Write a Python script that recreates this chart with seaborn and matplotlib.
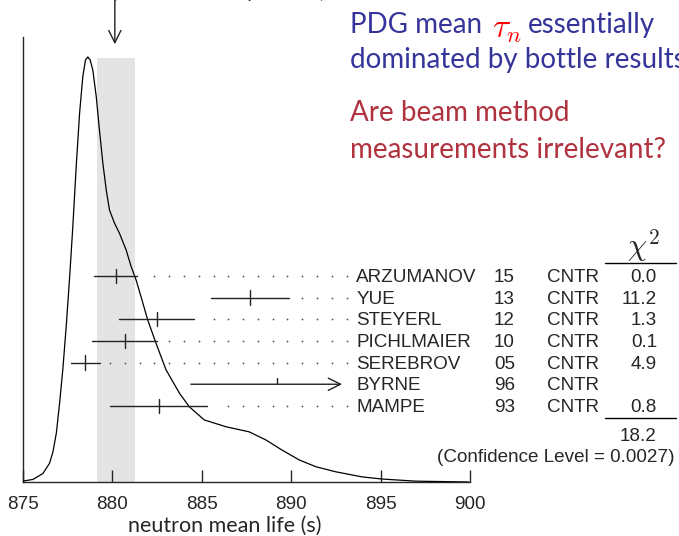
import matplotlib
matplotlib.use('Agg')
import matplotlib.pyplot as plt
import seaborn as sns
import numpy as np

# ideogram curve (peak normalised to 1)
curve_x = [874.98, 875.57, 876.13, 876.50, 876.69, 876.88, 877.06, 877.24, 877.43,
           877.62, 877.80, 877.99, 878.18, 878.36, 878.51, 878.64, 878.77, 878.92,
           879.11, 879.29, 879.48, 879.67, 879.85, 880.13, 880.41, 880.78, 881.06,
           881.34, 881.62, 881.99, 882.42, 883.01, 883.76, 884.31, 885.15, 886.36,
           887.66, 888.59, 889.50, 890.45, 891.38, 892.50, 893.97, 895.08, 896.96, 899.94]
curve_y = [0.002, 0.006, 0.020, 0.044, 0.071, 0.115, 0.185, 0.264, 0.365,
           0.480, 0.600, 0.742, 0.868, 0.954, 0.993, 1.000, 0.993, 0.969,
           0.907, 0.828, 0.750, 0.687, 0.640, 0.609, 0.585, 0.546, 0.507,
           0.475, 0.435, 0.381, 0.330, 0.264, 0.209, 0.177, 0.146, 0.130,
           0.118, 0.099, 0.075, 0.052, 0.036, 0.024, 0.012, 0.007, 0.002, 0.000]

names = ['ARZUMANOV', 'YUE', 'STEYERL', 'PICHLMAIER', 'SEREBROV', 'BYRNE', 'MAMPE']
years = ['15', '13', '12', '10', '05', '96', '93']
techs = ['CNTR'] * 7
tau = [880.2, 887.7, 882.5, 880.7, 878.5, 889.2, 882.6]
err = [1.2, 2.2, 2.1, 1.8, 0.8, 4.8, 2.7]
chi2 = ['0.0', '11.2', '1.3', '0.1', '4.9', '', '0.8']
used = [True, True, True, True, True, False, True]
chi2_total = '18.2'
conf_level = '0.0027'

pdg_mean = 880.2
band_lo, band_hi = 879.15, 881.25

sns.set_style('ticks')
plt.rcParams['mathtext.fontset'] = 'cm'
BLUE = '#34349a'
RED = '#b0323f'
beamer_font = 'Lato'
table_font = 'Liberation Sans'

fig = plt.figure(figsize=(6.79, 5.36), dpi=100)
ax = fig.add_axes([22.7 / 679, 54 / 536, 447.3 / 679, 445 / 536])
ax.set_xlim(875, 900)
ax.set_ylim(0, 1.047)

ax.fill_between([band_lo, band_hi], 0, 0.998, color='#e4e4e4', lw=0, zorder=0)
sns.lineplot(x=curve_x, y=curve_y, ax=ax, color='black', lw=0.9, zorder=3)

# measurements
row_top, row_step = 0.485, 0.051
dot_end, dot_step = 893.1, 0.826
for i, (n, t, e) in enumerate(zip(names, tau, err)):
    y = row_top - i * row_step
    lo, hi = t - e, t + e
    if used[i]:
        ax.plot([lo, hi], [y, y], color='#222222', lw=1.0, zorder=4)
        ax.plot([t, t], [y - 0.017, y + 0.017], color='#222222', lw=1.0, zorder=4)
        grid = dot_end - dot_step * np.arange(0, 30)
        dots = grid[grid > hi + 0.55]
        ax.plot(dots, [y] * len(dots), ls='none', marker='o', ms=1.3, mew=0,
                color='#555555', zorder=4)
    else:
        ax.annotate('', xy=(892.85, y), xytext=(lo, y),
                    arrowprops=dict(arrowstyle='->', color='#222222', lw=1.0,
                                    mutation_scale=22, shrinkA=0, shrinkB=0))
        ax.plot([t, t], [y, y + 0.014], color='#222222', lw=1.0, zorder=4)
    ty = y - 0.004
    ax.text(893.65, ty, n, fontsize=13.6, family=table_font, va='center', ha='left')
    ax.text(901.33, ty, years[i], fontsize=13.6, family=table_font, va='center', ha='left')
    ax.text(904.3, ty, techs[i], fontsize=13.6, family=table_font, va='center', ha='left')
    ax.text(910.45, ty, chi2[i], fontsize=13.6, family=table_font, va='center', ha='right')

ax.text(909.7, 0.556, r'$\chi^2$', fontsize=22, ha='center', va='center')
ax.plot([907.57, 911.5], [0.516, 0.516], color='black', lw=1.0, clip_on=False)
ax.plot([907.57, 911.5], [0.151, 0.151], color='black', lw=1.0, clip_on=False)
ax.text(910.45, 0.106, chi2_total, fontsize=13.6, family=table_font, va='center', ha='right')
ax.text(911.45, 0.058, '(Confidence Level = %s)' % conf_level, fontsize=13.6,
        family=table_font, va='center', ha='right')

# pointer to the PDG average
ax.annotate('', xy=(pdg_mean - 0.05, 1.03), xytext=(pdg_mean - 0.05, 1.14),
            arrowprops=dict(arrowstyle='->', color='#222222', lw=1.0,
                            mutation_scale=22, shrinkA=0, shrinkB=0),
            annotation_clip=False)
fig.text(112 / 679, 1.0 + 2 / 536, '(error inflated by S = 1.9)', fontsize=14,
         family=beamer_font, va='baseline', ha='left')

# axes styling
sns.despine(ax=ax)
ax.spines['left'].set_linewidth(1.0)
ax.spines['bottom'].set_linewidth(1.0)
ax.set_yticks([])
ax.set_xticks([875, 880, 885, 890, 895, 900])
ax.tick_params(axis='x', direction='in', length=9, width=1.0, pad=10, labelsize=13.6)
for lab in ax.get_xticklabels():
    lab.set_family(table_font)
ax.set_xlabel('neutron mean life (s)', fontsize=15.5, family=beamer_font)
ax.xaxis.set_label_coords(0.4518, -0.099)
ax.xaxis.label.set_va('center')

# slide text
fs = 20
t1 = fig.text(350 / 679, 0.953, 'PDG mean', color=BLUE, fontsize=fs,
              family=beamer_font, va='center', ha='left')
t2 = ax.annotate(r'$\tau_n$', xy=(1, 0), xycoords=t1, color='red', fontsize=24,
                 va='bottom', ha='left', xytext=(7, -5), textcoords='offset points')
ax.annotate('essentially', xy=(1, 0), xycoords=(t2, t1), color=BLUE, fontsize=fs,
            family=beamer_font, va='bottom', ha='left', xytext=(4, 0),
            textcoords='offset points')
fig.text(350 / 679, 0.888, 'dominated by bottle results', color=BLUE, fontsize=fs,
         family=beamer_font, va='center', ha='left')
fig.text(350 / 679, 0.789, 'Are beam method', color=RED, fontsize=fs,
         family=beamer_font, va='center', ha='left')
fig.text(350 / 679, 0.720, 'measurements irrelevant?', color=RED, fontsize=fs,
         family=beamer_font, va='center', ha='left')

fig.savefig('out.png', dpi=100)
